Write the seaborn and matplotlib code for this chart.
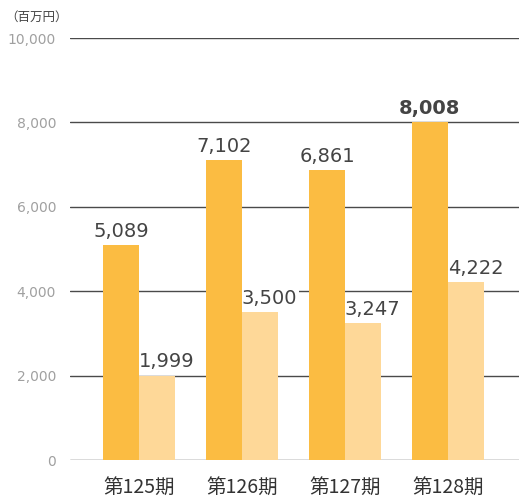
import pandas as pd
import seaborn as sns
import matplotlib.pyplot as plt

periods = ["第125期", "第126期", "第127期", "第128期"]
series_a = [5089, 7102, 6861, 8008]
series_b = [1999, 3500, 3247, 4222]
yticks = [0, 2000, 4000, 6000, 8000, 10000]

df = pd.DataFrame({
    "period": periods * 2,
    "value": series_a + series_b,
    "kind": ["a"] * 4 + ["b"] * 4,
})

sns.set_style("white")
plt.rcParams["font.family"] = ["Noto Sans CJK JP", "DejaVu Sans"]

fig = plt.figure(figsize=(5.19, 5.01), dpi=100)
ax = fig.add_axes([70 / 519, 41 / 501, 449 / 519, 422 / 501])

sns.barplot(data=df, x="period", y="value", hue="kind", order=periods,
            palette={"a": "#fbbc42", "b": "#fed898"}, width=0.7,
            saturation=1, legend=False, ax=ax, zorder=3, linewidth=0)

ax.set_xlim(-0.67, 3.69)
ax.set_ylim(0, 10000)
ax.set_yticks(yticks)
ax.set_yticklabels([f"{v:,}" for v in yticks], color="#a0a0a0", fontsize=10,
                   family="DejaVu Sans")
ax.yaxis.grid(True, color="#4a4a4a", linewidth=1, zorder=0)
ax.set_axisbelow(True)
for s in ax.spines.values():
    s.set_visible(False)
ax.tick_params(axis="y", length=0, pad=10)
ax.tick_params(axis="x", length=0, pad=12, labelsize=14, labelcolor="#333333")
ax.set_xlabel("")
ax.set_ylabel("")

for i, cont in enumerate(ax.containers):
    vals = series_a if i == 0 else series_b
    dx = 0 if i == 0 else 7
    for bar, v in zip(cont, vals):
        weight = "bold" if v == max(series_a) else "normal"
        ax.annotate(f"{v:,}", (bar.get_x() + bar.get_width() / 2, v),
                    xytext=(dx, 3), textcoords="offset points",
                    ha="center", va="bottom", fontsize=14, color="#444444",
                    family="DejaVu Sans", fontweight=weight, zorder=2,
                    bbox=dict(facecolor="white", edgecolor="none", pad=1))

fig.text(5 / 519, 1 - 17 / 501, "（百万円）", fontsize=9, color="#444444",
         va="center", ha="left")

fig.savefig("out.png", dpi=100)
